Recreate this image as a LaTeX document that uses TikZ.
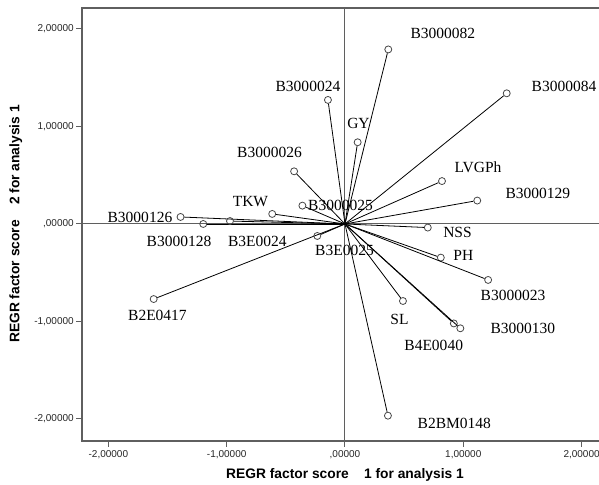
\documentclass[tikz,border=0pt]{standalone}
\usepackage{fontspec}
\setmainfont{Liberation Serif}
\newfontfamily\arialfont{Liberation Sans}
\usetikzlibrary{positioning}
\definecolor{axisgray}{RGB}{95,95,95}
\definecolor{markgray}{RGB}{70,70,70}
\tikzset{
  pt/.style={circle, draw=markgray, line width=0.8pt, inner sep=0pt, minimum size=7pt},
  ray/.style={line width=0.8pt, color=black},
  lbl/.style={font=\fontsize{15.5}{15.5}\selectfont, inner sep=0pt},
  ticklbl/.style={font=\arialfont\fontsize{10}{10}\selectfont, inner sep=0pt, color=black!85},
  axtitle/.style={font=\arialfont\bfseries\fontsize{13.8}{13.8}\selectfont, inner sep=0pt}
}

\begin{document}
\begin{tikzpicture}[x=118.3pt, y=97.5pt,
  frame/.style={draw=axisgray, line width=1.4pt},
  zeroline/.style={draw=axisgray, line width=1pt}
]
  \useasboundingbox (-2.916,-2.677) rectangle (2.147,2.297);
  \draw [frame] (-2.223,-2.226) rectangle (2.223,2.215);
  \coordinate (o) at (0,0);
  \draw [zeroline] (-2.223,0) -- (2.223,0);
  \draw [zeroline] (0,-2.226) -- (0,2.215);

  \foreach \v/\t [count=\i] in {-2/{-2,00000},-1/{-1,00000},0/{,00000},1/{1,00000},2/{2,00000}} {
    \draw [frame, line width=1pt] (\v,-2.226) -- (\v,-2.288);
    \node [ticklbl] (xl\i) at (\v,-2.369) {\t};
    \draw [frame, line width=1pt] (-2.223,\v) -- (-2.274,\v);
    \node [ticklbl, anchor=east] (yl\i) at (-2.291,\v) {\t};
  }

  \node [axtitle] (xtitle) at (0,-2.57) {REGR factor score\hspace{1.1em}1 for analysis 1};
  \node [axtitle, rotate=90] (ytitle) at (-2.783,0) {REGR factor score\hspace{1.1em}2 for analysis 1};

  \foreach \n/\px/\py in {B3000082/0.366/1.79, B3000084/1.367/1.34, GY/0.107/0.838,
      B3000024/-0.144/1.272, LVGPh/0.82/0.44, B3000129/1.118/0.24, NSS/0.70/-0.037,
      B3000025/-0.36/0.188, TKW/-0.615/0.103, B3000026/-0.43/0.54, B3000126/-1.39/0.072,
      B3000128/-1.198/0.0, B3E0024/-0.972/0.03, B2E0417/-1.617/-0.77, B3E0025/-0.234/-0.123,
      PH/0.81/-0.345, B3000023/1.21/-0.574, SL/0.49/-0.79, B4E0040/0.92/-1.02,
      B3000130/0.975/-1.07, B2BM0148/0.363/-1.966} {
    \node [pt] (\n) at (\px,\py) {};
    \draw [ray] (o) -- (\n);
  }

  \foreach \n/\px/\py in {B3000082/0.828/1.959, B3000084/1.851/1.415, GY/0.114/1.026,
      B3000024/-0.313/1.415, LVGPh/1.124/0.585, B3000129/1.631/0.318, NSS/0.951/-0.082,
      B3000025/-0.038/0.195, TKW/-0.799/0.229, B3000026/-0.638/0.738, B3000126/-1.733/0.072,
      B3000128/-1.403/-0.174, B3E0024/-0.74/-0.174, B2E0417/-1.585/-0.933, B3E0025/-0.004/-0.274,
      PH/1.0/-0.318, B3000023/1.42/-0.728, SL/0.461/-0.977, B4E0040/0.75/-1.241,
      B3000130/1.503/-1.07, B2BM0148/0.924/-2.044} {
    \node [lbl] (l\n) at (\px,\py) {\n};
  }
\end{tikzpicture}
\end{document}
